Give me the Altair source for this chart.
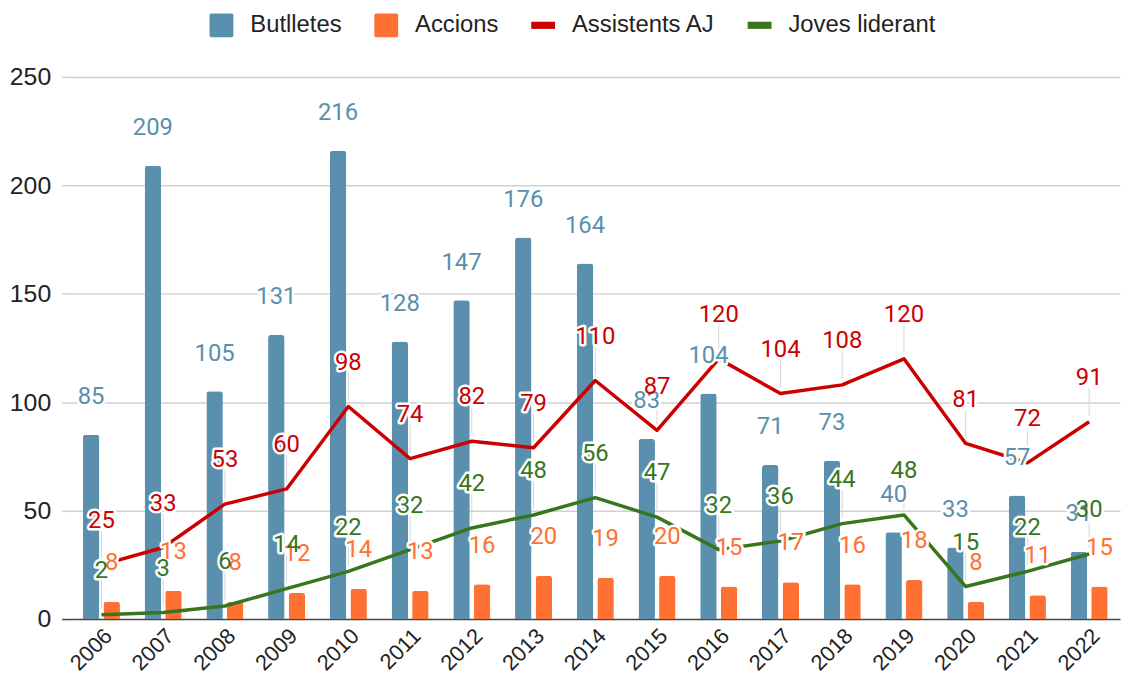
import altair as alt
import pandas as pd

years = ["2006", "2007", "2008", "2009", "2010", "2011", "2012", "2013", "2014",
         "2015", "2016", "2017", "2018", "2019", "2020", "2021", "2022"]
butlletes = [85, 209, 105, 131, 216, 128, 147, 176, 164, 83, 104, 71, 73, 40, 33, 57, 31]
accions = [8, 13, 8, 12, 14, 13, 16, 20, 19, 20, 15, 17, 16, 18, 8, 11, 15]
assistents = [25, 33, 53, 60, 98, 74, 82, 79, 110, 87, 120, 104, 108, 120, 81, 72, 91]
joves = [2, 3, 6, 14, 22, 32, 42, 48, 56, 47, 32, 36, 44, 48, 15, 22, 30]

series_names = ["Butlletes", "Accions", "Assistents AJ", "Joves liderant"]
series_colors = ["#5a8fae", "#ff7033", "#cc0000", "#38761d"]
bar_series = series_names[:2]
line_series = series_names[2:]
y_ticks = [0, 50, 100, 150, 200, 250]

rows = []
for name, vals in zip(series_names, [butlletes, accions, assistents, joves]):
    for yr, v in zip(years, vals):
        rows.append({"year": yr, "series": name, "value": v})
df = pd.DataFrame(rows)

base = alt.Chart(df)
color_of = dict(zip(series_names, series_colors))

X = alt.X("year:N", sort=years,
          scale=alt.Scale(paddingInner=0.4, paddingOuter=0.2),
          axis=alt.Axis(title=None, labelAngle=-45, domain=False, ticks=False, grid=False,
                        labelFont="Liberation Sans", labelFontSize=22, labelColor="#222222",
                        labelPadding=6))
Y = alt.Y("value:Q", scale=alt.Scale(domain=[0, 250], nice=False),
          axis=alt.Axis(title=None, values=y_ticks, domain=False, ticks=True, tickSize=9,
                        tickColor=alt.condition("datum.value == 0", alt.value("#444444"), alt.value("#d0d0d0")),
                        gridColor=alt.condition("datum.value == 0", alt.value("#444444"), alt.value("#d0d0d0")),
                        gridWidth=1.5, tickWidth=1.5,
                        labelFont="Liberation Sans", labelFontSize=25, labelColor="#222222",
                        labelPadding=11))
XO = alt.XOffset("series:N", scale=alt.Scale(domain=bar_series, paddingInner=0.2, paddingOuter=0))


def only(name):
    return base.transform_filter(alt.datum.series == name)


font_args = dict(font="Roboto", fontSize=24)

bar_layers = []
line_layers = []
leader_layers = []
halo_layers = []
text_layers = []

for name, dy in zip(bar_series, [-38, -39]):
    src = only(name)
    col = color_of[name]
    bar_layers.append(src.mark_bar(cornerRadiusTopLeft=3, cornerRadiusTopRight=3, color=col)
                      .encode(x=X, xOffset=XO, y=Y))
    enc = dict(x=X, xOffset=XO, y=Y, text=alt.Text("value:Q"))
    halo_layers.append(src.mark_text(dy=dy, stroke="white", strokeWidth=5, strokeJoin="round",
                                     fill="white", **font_args).encode(**enc))
    text_layers.append(src.mark_text(dy=dy, fill=col, **font_args).encode(**enc))

for name in line_series:
    src = only(name)
    col = color_of[name]
    line_layers.append(src.mark_line(strokeWidth=3.5, strokeJoin="round", color=col).encode(x=X, y=Y))
    leader_layers.append(src.mark_rule(color="#d6d6d6", strokeWidth=1, yOffset=-6, y2Offset=-34)
                         .encode(x=X, y=Y, y2=alt.Y2("value:Q")))
    enc = dict(x=X, y=Y, text=alt.Text("value:Q"))
    halo_layers.append(src.mark_text(dy=-44, stroke="white", strokeWidth=5, strokeJoin="round",
                                     fill="white", **font_args).encode(**enc))
    text_layers.append(src.mark_text(dy=-44, fill=col, **font_args).encode(**enc))

leg = alt.Legend(title=None, orient="none", legendX=140, legendY=-64, direction="horizontal",
                 labelFont="Liberation Sans", labelFontSize=24, labelColor="#222222",
                 symbolSize=576, symbolStrokeWidth=0, symbolOpacity=1,
                 columnPadding=32, labelOffset=17, padding=0)
sq = "M-0.85,-1H0.85Q1,-1 1,-0.85V0.85Q1,1 0.85,1H-0.85Q-1,1 -1,0.85V-0.85Q-1,-1 -0.85,-1Z"
ln = "M-1,-0.3H1V0.3H-1Z"
legend_layer = base.transform_filter("false").mark_point(filled=True).encode(
    x=X, y=Y,
    color=alt.Color("series:N", scale=alt.Scale(domain=series_names, range=series_colors), legend=leg),
    shape=alt.Shape("series:N", scale=alt.Scale(domain=series_names, range=[sq, sq, ln, ln]), legend=leg))

chart = alt.layer(
    *bar_layers, *line_layers, *leader_layers, *halo_layers, *text_layers, legend_layer,
).properties(
    width=1057, height=546,
    padding={"left": 63, "top": 67, "right": 2, "bottom": 64},
    autosize=alt.AutoSizeParams(type="none"),
    background="white",
).configure_view(stroke=None)

chart.save("out.html", embed_options={"renderer": "svg", "actions": False})
